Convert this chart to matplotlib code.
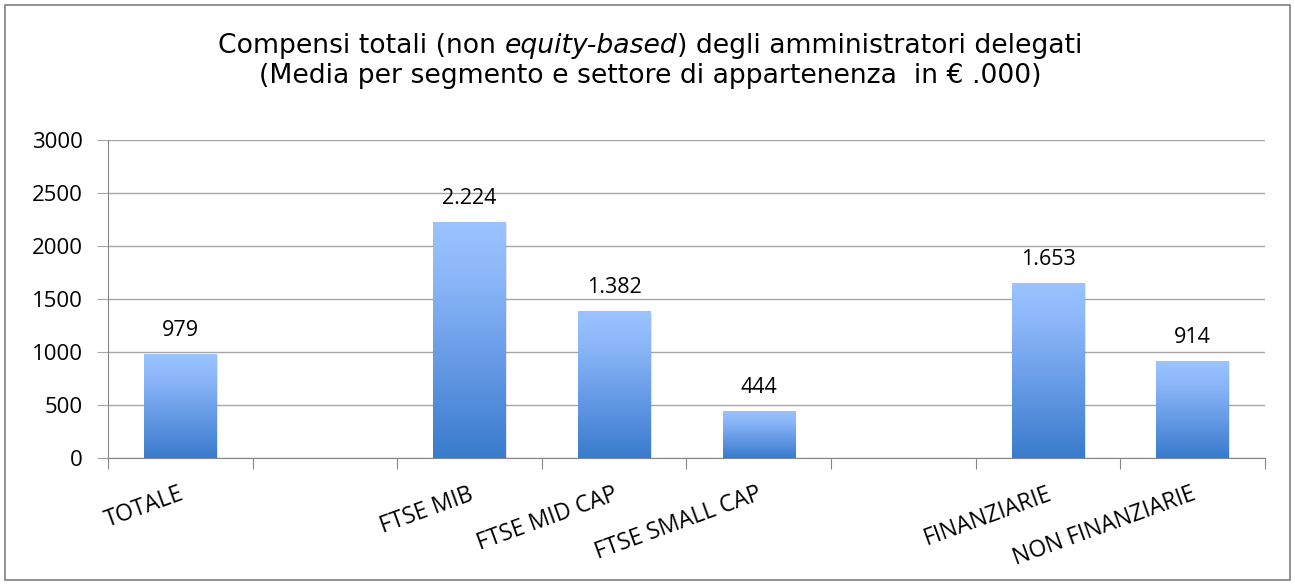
import numpy as np
import matplotlib
matplotlib.use('Agg')
import matplotlib.pyplot as plt
from matplotlib.colors import LinearSegmentedColormap
from matplotlib.patches import Rectangle

categories = ['TOTALE', '', 'FTSE MIB', 'FTSE MID CAP', 'FTSE SMALL CAP', '', 'FINANZIARIE', 'NON FINANZIARIE']
values = [979, 0, 2224, 1382, 444, 0, 1653, 914]
labels = ['979', '', '2.224', '1.382', '444', '', '1.653', '914']

fig = plt.figure(figsize=(12.95, 5.84), dpi=100)
ax = fig.add_axes([0.0834, 0.2158, 0.8934, 0.5445])

# outer frame
fig.patches.append(Rectangle((0.004, 0.007), 0.992, 0.985, transform=fig.transFigure,
                             fill=False, edgecolor='#7f7f7f', linewidth=1.2))

x = np.arange(len(categories))
cmap = LinearSegmentedColormap.from_list('grad', [(0, '#3a7bcc'), (0.35, '#5f96e2'),
                                                  (0.75, '#8ab5f8'), (1, '#9bc3ff')])
grad = np.linspace(0, 1, 256).reshape(-1, 1)

bars = ax.bar(x, values, width=0.5, color='none', edgecolor='none', zorder=3)
for b, v in zip(bars, values):
    if v <= 0:
        continue
    x0, w = b.get_x(), b.get_width()
    # soft shadow
    ax.add_patch(Rectangle((x0 + 0.01, -12), w, v, facecolor='#000000', alpha=0.10,
                           edgecolor='none', zorder=2))
    im = ax.imshow(grad, cmap=cmap, aspect='auto', origin='lower',
                   extent=[x0, x0 + w, 0, v], zorder=3)
    im.set_clip_path(b)

for xi, v, lab in zip(x, values, labels):
    if lab:
        ax.text(xi, v + 125, lab, ha='center', va='bottom', fontsize=15.5,
                family='Open Sans', color='#000000')

ax.set_xlim(-0.5, len(categories) - 0.5)
ax.set_ylim(0, 3000)
ax.set_yticks(np.arange(0, 3001, 500))
ax.yaxis.grid(True, color='#a6a6a6', linewidth=1)
ax.set_axisbelow(True)
for s in ['top', 'right']:
    ax.spines[s].set_visible(False)
ax.spines['left'].set_color('#868686')
ax.spines['bottom'].set_color('#868686')
ax.tick_params(axis='y', length=8, color='#a6a6a6', labelsize=16, pad=10)
for t in ax.get_yticklabels():
    t.set_family('Open Sans')

ax.set_xticks(np.arange(-0.5, len(categories) + 0.5, 1))
ax.set_xticklabels([])
ax.tick_params(axis='x', length=8, color='#868686')
for xi, c in zip(x, categories):
    if c:
        ax.text(xi - 0.01, -230, c, rotation=20, rotation_mode='anchor', ha='right', va='top',
                fontsize=16.5, family='Open Sans')

# title with italic part
fig.canvas.draw()
r = fig.canvas.get_renderer()
parts = [('Compensi totali (non ', 'normal'), ('equity-based', 'italic'),
         (') degli amministratori delegati', 'normal')]
texts = []
for s, st in parts:
    t = fig.text(0, 0.922, s, fontsize=19.2, style=st, family='DejaVu Sans', va='center')
    texts.append(t)
widths = [t.get_window_extent(r).width for t in texts]
total = sum(widths)
start = (fig.bbox.width * 0.5 - total / 2 + 3)
for t, w in zip(texts, widths):
    t.set_x(start / fig.bbox.width)
    start += w
fig.text(0.5 + 3 / 1295, 0.87, '(Media per segmento e settore di appartenenza  in \u20ac .000)',
         fontsize=19.2, family='DejaVu Sans', ha='center', va='center')

fig.savefig('out.png', dpi=100)
